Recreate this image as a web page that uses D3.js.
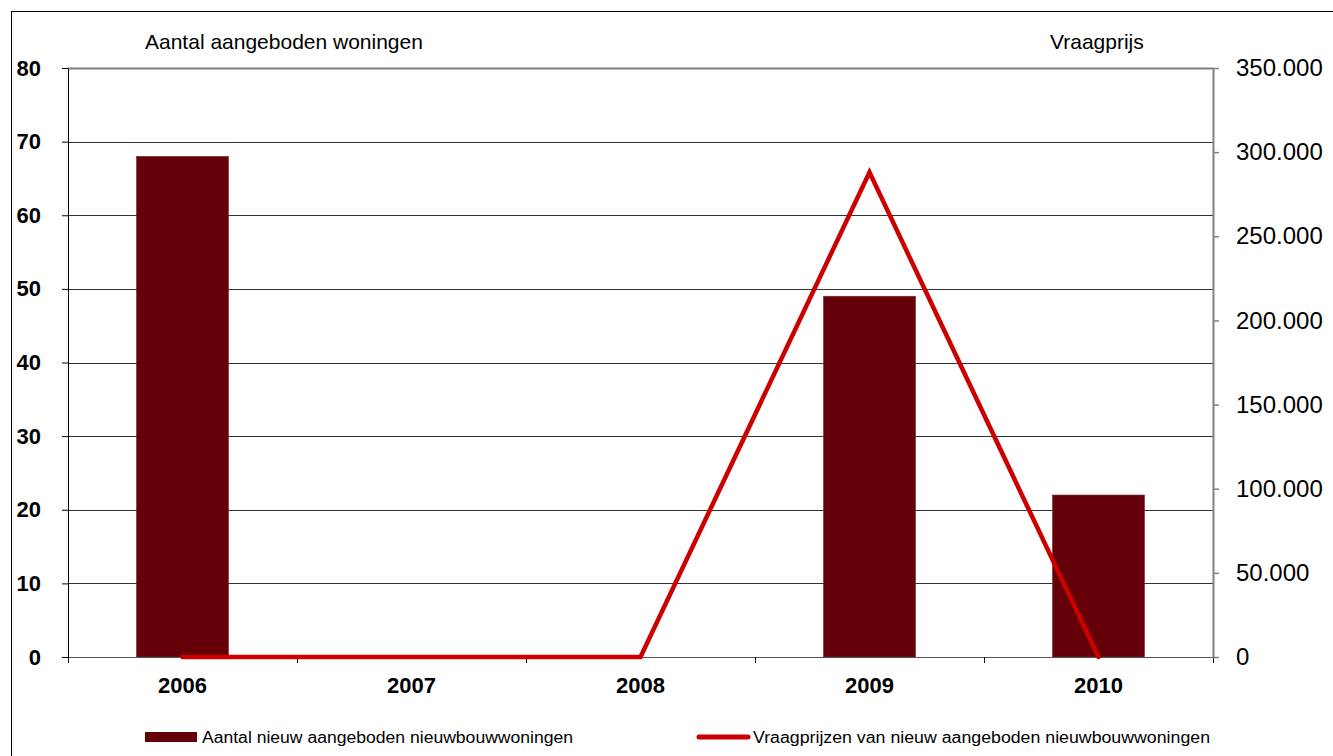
<!DOCTYPE html>
<html><head><meta charset="utf-8">
<script src="https://cdn.jsdelivr.net/npm/d3@7"></script>
<style>body{margin:0;background:#fff}svg{display:block;font-family:"Liberation Sans",Arial,sans-serif}</style>
</head><body><svg id="c" width="1333" height="756"></svg>
<script>
const categories = ["2006","2007","2008","2009","2010"];
const aantal = [68, null, null, 49, 22];
const vraagprijs = [0, 0, 0, 288000, 0];
const leftTicks = [0,10,20,30,40,50,60,70,80];
const rightTicks = [0,50000,100000,150000,200000,250000,300000,350000];
const rightTickLabels = ["0","50.000","100.000","150.000","200.000","250.000","300.000","350.000"];
const titleLeft = "Aantal aangeboden woningen";
const titleRight = "Vraagprijs";
const legendLabels = ["Aantal nieuw aangeboden nieuwbouwwoningen","Vraagprijzen van nieuw aangeboden nieuwbouwwoningen"];

const svg = d3.select("#c");
const L=68, R=1213, T=68, B=657;
const x = d3.scaleBand().domain(categories).range([L,R]).paddingInner(0).paddingOuter(0);
const yL = d3.scaleLinear().domain([0,80]).range([B,T]);
const yR = d3.scaleLinear().domain([0,350000]).range([B,T]);
const FF = "Liberation Sans, Arial, sans-serif";

// outer border
svg.append("rect").attr("x",11.5).attr("y",11.5).attr("width",1340).attr("height",760).attr("fill","none").attr("stroke","#000").attr("stroke-width",1);

// gridlines
svg.append("g").selectAll("line").data(leftTicks.filter(d=>d>0)).join("line")
  .attr("x1",L).attr("x2",R).attr("y1",d=>Math.round(yL(d))+0.5).attr("y2",d=>Math.round(yL(d))+0.5)
  .attr("stroke",d=>d===80?"#808080":"#333").attr("stroke-width",d=>d===80?2:1);

// bars
const bw = 92;
svg.append("g").selectAll("rect").data(categories.map((c,i)=>({c,v:aantal[i]})).filter(d=>d.v!=null)).join("rect")
  .attr("x",d=>x(d.c)+x.bandwidth()/2-bw/2).attr("width",bw)
  .attr("y",d=>yL(d.v)).attr("height",d=>B-yL(d.v))
  .attr("fill","#660008").attr("stroke","#7a2a30").attr("stroke-width",0.6);

// x axis
const gx = svg.append("g").attr("transform",`translate(0,${B})`)
  .call(d3.axisBottom(x).tickSize(0).tickSizeOuter(0));
gx.select(".domain").attr("stroke","#555");
gx.selectAll("text").attr("y",20).attr("font-size",22).attr("font-weight","bold").attr("fill","#000").attr("font-family",FF);
svg.append("g").selectAll("line").data(categories.slice(1).concat(["end"])).join("line")
  .attr("x1",(d,i)=>Math.round(L+(i+1)*x.bandwidth())+0.5).attr("x2",(d,i)=>Math.round(L+(i+1)*x.bandwidth())+0.5)
  .attr("y1",B).attr("y2",B+6).attr("stroke","#000");

// left axis
const gl = svg.append("g").attr("transform",`translate(${L},0)`)
  .call(d3.axisLeft(yL).tickValues(leftTicks).tickSize(6).tickSizeOuter(0).tickFormat(d3.format("d")));
gl.select(".domain").attr("stroke","#000");
gl.append("line").attr("x1",0.5).attr("x2",0.5).attr("y1",B).attr("y2",B+6).attr("stroke","#000");
gl.selectAll(".tick line").attr("stroke","#000");
gl.selectAll("text").attr("x",-27).attr("font-size",22).attr("font-weight","bold").attr("fill","#000").attr("font-family",FF);

// right axis
const gr = svg.append("g").attr("transform",`translate(${R},0)`)
  .call(d3.axisRight(yR).tickValues(rightTicks).tickSize(6).tickSizeOuter(0).tickFormat((d,i)=>rightTickLabels[i]));
gr.select(".domain").attr("stroke","#808080").attr("stroke-width",2);
gr.selectAll(".tick line").attr("stroke","#808080").attr("stroke-width",1.5);
gr.selectAll("text").attr("x",23).attr("font-size",24).attr("fill","#000").attr("font-family",FF);

// line
const line = d3.line().x((d,i)=>x(categories[i])+x.bandwidth()/2).y(d=>yR(d));
svg.append("path").datum(vraagprijs).attr("d",line).attr("fill","none")
  .attr("stroke","#cc0000").attr("stroke-width",4.5).attr("stroke-linecap","round").attr("stroke-linejoin","miter");

// titles
svg.append("text").attr("x",145).attr("y",49).attr("font-size",21).text(titleLeft);
svg.append("text").attr("x",1050).attr("y",49).attr("font-size",21).text(titleRight);

// legend
svg.append("rect").attr("x",145).attr("y",732).attr("width",52).attr("height",10).attr("fill","#660008");
svg.append("text").attr("x",202).attr("y",743).attr("font-size",16).attr("textLength",371).attr("lengthAdjust","spacingAndGlyphs").text(legendLabels[0]);
svg.append("line").attr("x1",699).attr("x2",748).attr("y1",737).attr("y2",737).attr("stroke","#cc0000").attr("stroke-width",5).attr("stroke-linecap","round");
svg.append("text").attr("x",753).attr("y",743).attr("font-size",16).attr("textLength",457).attr("lengthAdjust","spacingAndGlyphs").text(legendLabels[1]);
</script></body></html>
